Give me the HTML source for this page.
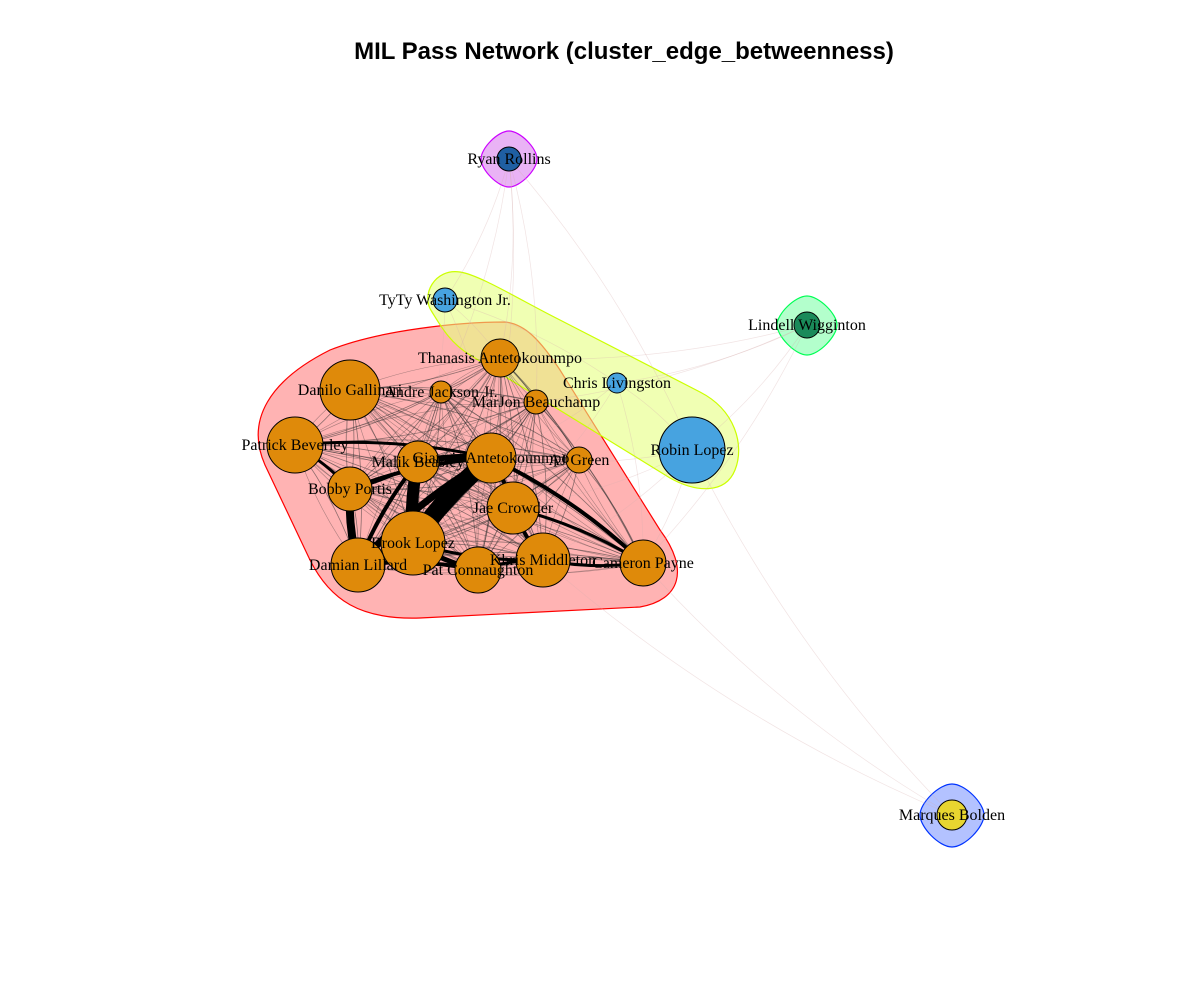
<!DOCTYPE html>
<html><head><meta charset="utf-8"><style>
html,body{margin:0;padding:0;background:#fff;}
svg text{font-family:"Liberation Serif",serif;}
</style></head><body>
<svg id="chart" width="1200" height="1000" xmlns="http://www.w3.org/2000/svg">
<rect width="1200" height="1000" fill="#fff"/>
<text x="624" y="59" text-anchor="middle" style="font-family:'Liberation Sans',sans-serif;font-weight:bold;font-size:24px">MIL Pass Network (cluster_edge_betweenness)</text>
<g id="hulls">
<path d="M330,350 C380,330 460,322 505,322 C525,324 540,340 560,370 L660,530 C690,570 680,600 640,607 L420,618 C360,620 330,600 310,560 L265,465 C245,420 270,380 330,350 Z" fill="#ffb3b3" stroke="#ff0000" stroke-width="1.2"/>
<path d="M432,312 C420,295 435,268 460,272 C480,275 520,300 560,320 L700,392 C735,410 745,445 735,470 C725,495 695,492 670,478 L470,355 C450,343 440,325 432,312 Z" fill="#e6ff80" fill-opacity="0.6" stroke="#ccff00" stroke-width="1.2"/>
<path d="M509,131 C520,131 537,148 537,159 C537,170 520,187 509,187 C498,187 481,170 481,159 C481,148 498,131 509,131 Z" fill="#e9b3f5" stroke="#cc00ff" stroke-width="1.2"/>
<path d="M807,296 C819,296 837,314 837,325 C837,336 819,355 807,355 C795,355 777,336 777,325 C777,314 795,296 807,296 Z" fill="#b3ffcc" stroke="#00ff55" stroke-width="1.2"/>
<path d="M952,784 C965,784 984,803 984,815 C984,827 965,847 952,847 C939,847 920,827 920,815 C920,803 939,784 952,784 Z" fill="#b3c2ff" stroke="#0033ff" stroke-width="1.2"/>
</g>
<g id="edges"></g>
<g id="nodes"></g>
</svg>
<script>
const nodeNames=["Ryan Rollins","TyTy Washington Jr.","Lindell Wigginton","Thanasis Antetokounmpo","Danilo Gallinari","Andre Jackson Jr.","MarJon Beauchamp","Chris Livingston","Patrick Beverley","Giannis Antetokounmpo","Malik Beasley","AJ Green","Robin Lopez","Bobby Portis","Jae Crowder","Brook Lopez","Damian Lillard","Pat Connaughton","Khris Middleton","Cameron Payne","Marques Bolden"];
const nodeX=[509,445,807,500,350,441,536,617,295,491,418,579,692,350,513,413,358,478,543,643,952];
const nodeY=[159,300,325,358,390,392,402,383,445,458,462,460,450,489,508,543,565,570,560,563,815];
const nodeSize=[12,12,13,19,30,11,12,10,28,25,21,13,33,22,26,32,27,23,27,23,15];
const nodeCluster=[0,1,2,3,3,3,3,1,3,3,3,3,1,3,3,3,3,3,3,3,4];
const clusterColors=["#1f5fa3","#47a3e0","#1a8a5a","#df8a0a","#e8d630"];
const mainCluster=[3,4,5,6,8,9,10,11,13,14,15,16,17,18,19];
const heavyEdges=[[15,9,18],[15,10,12],[16,13,8],[16,9,7],[10,9,6],[15,16,5],[17,15,5],[18,14,4],[9,14,4],[9,19,4],[8,9,3],[8,13,3],[16,17,4],[18,15,3],[19,18,3],[13,9,4],[10,13,3],[16,10,4],[14,19,3],[17,18,3]];
const outsideEdges=[[0,3],[0,1],[0,6],[0,9],[0,5],[0,12],[1,3],[1,9],[1,10],[1,7],[7,12],[7,19],[7,14],[7,9],[12,19],[12,9],[12,18],[12,14],[2,12],[2,7],[2,3],[2,6],[2,19],[20,19],[20,12],[20,18]];

const NS="http://www.w3.org/2000/svg";
const eg=document.getElementById('edges');
const ng=document.getElementById('nodes');
function line(a,b,w,col,op){
  const l=document.createElementNS(NS,'path');
  const mx=(nodeX[a]+nodeX[b])/2+(nodeY[b]-nodeY[a])*0.08;
  const my=(nodeY[a]+nodeY[b])/2-(nodeX[b]-nodeX[a])*0.08;
  l.setAttribute('d',`M${nodeX[a]},${nodeY[a]} Q${mx},${my} ${nodeX[b]},${nodeY[b]}`);
  l.setAttribute('fill','none');
  l.setAttribute('stroke',col);
  l.setAttribute('stroke-width',w);
  l.setAttribute('stroke-opacity',op);
  
  
  eg.appendChild(l);
}
for(let i=0;i<mainCluster.length;i++)for(let j=i+1;j<mainCluster.length;j++){
  line(mainCluster[i],mainCluster[j],0.8,'#333',0.55);
  line(mainCluster[j],mainCluster[i],0.6,'#333',0.4);
}
outsideEdges.forEach(e=>line(e[0],e[1],0.7,'#d8b0b0',0.35));
heavyEdges.forEach(e=>line(e[0],e[1],e[2],'#000',1));
for(let i=0;i<nodeNames.length;i++){
  const c=document.createElementNS(NS,'circle');
  c.setAttribute('cx',nodeX[i]);c.setAttribute('cy',nodeY[i]);c.setAttribute('r',nodeSize[i]);
  c.setAttribute('fill',clusterColors[nodeCluster[i]]);c.setAttribute('stroke','#000');c.setAttribute('stroke-width','1');
  
  
  ng.appendChild(c);
}
for(let i=0;i<nodeNames.length;i++){
  const t=document.createElementNS(NS,'text');
  t.setAttribute('x',nodeX[i]);t.setAttribute('y',nodeY[i]+5);
  t.setAttribute('text-anchor','middle');t.setAttribute('font-size','16');
  t.textContent=nodeNames[i];
  
  
  ng.appendChild(t);
}
</script>
</body></html>
